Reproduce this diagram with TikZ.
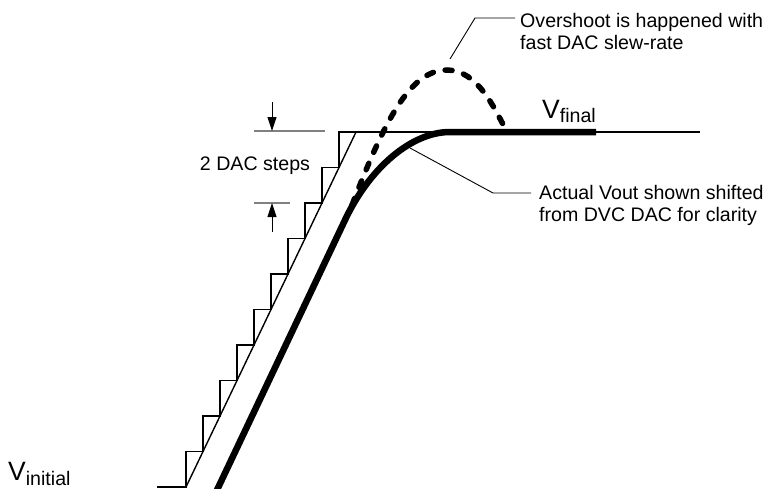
\documentclass[tikz,border=0pt]{standalone}
\usepackage{fontspec}
\setmainfont{Liberation Sans}
\usepackage{xcolor}
\usepackage{tikz}
\usetikzlibrary{arrows.meta, positioning}

\begin{document}
\begin{tikzpicture}[x=1pt, y=-1pt]
\tikzstyle{note} = [inner sep=0pt, align=left, anchor=north west, font=\fontsize{19.6}{21.6}\selectfont]
\tikzstyle{level} = [inner sep=0pt, anchor=base west, font=\fontsize{26.5}{28}\selectfont]
\tikzstyle{stair} = [line width=1.4pt]
\tikzstyle{leader} = [line width=0.9pt]
\tikzstyle{vout} = [line width=6.5pt]
\tikzstyle{overshoot} = [line width=5.5pt, line cap=round, dash pattern=on 7pt off 12pt]
\tikzstyle{dimline} = [line width=1.4pt, gray]
\tikzstyle{dimarrow} = [line width=0.9pt, -{Triangle[length=14pt,width=9pt]}]

\useasboundingbox (0,0) rectangle (767,488);

% DAC staircase and ideal ramp
\coordinate (stbegin) at (157,487);
\coordinate (stfoot) at (186,487);
\coordinate (sttop) at (356,132);
\coordinate (stend) at (700,132);
\draw[stair] (stbegin) -- (stfoot) \foreach \i in {1,...,10} {-- ++(0,-35.5) -- ++(17,0)} -- (stend);
\draw[stair] (stfoot) -- (sttop);

% actual Vout
\coordinate (vfoot) at (217,490);
\coordinate (vbend) at (345,220);
\coordinate (vflat) at (450,132);
\coordinate (vend) at (596,132);
\draw[vout] (vfoot) -- (vbend) .. controls (369.6,167.8) and (411.6,132) .. (vflat) -- (vend);

% overshoot
\coordinate (ovstart) at (352,205);
\coordinate (ovtop) at (447,70);
\coordinate (ovend) at (505,128);
\draw[overshoot] (ovstart) .. controls (385,120) and (410,70) .. (ovtop)
  .. controls (478,70) and (495,110) .. (ovend);

% 2 DAC steps
\draw[dimline] (254,131) -- (325,131);
\draw[dimline] (254,203) -- (290,203);
\coordinate (arrup) at (272,102);
\coordinate (limup) at (272,131);
\coordinate (arrdown) at (272,232);
\coordinate (limdown) at (272,203);
\draw[dimarrow] (arrup) -- (limup);
\draw[dimarrow] (arrdown) -- (limdown);
\node (dacsteps) [font=\fontsize{19.6}{21.6}\selectfont, inner sep=0pt] at (255,166) {2 DAC steps};

% labels
\node (vfinal) [level] at (542,118) {V\raisebox{-4pt}{\fontsize{19.6}{21}\selectfont final}};
\node (vinitial) [level] at (8,480) {V\raisebox{-5pt}{\fontsize{19.6}{21}\selectfont initial}};

\node (ovtext) [note] at (520,13) {Overshoot is happened with\\fast DAC slew-rate};
\node (actext) [note] at (539,185) {Actual Vout shown shifted\\from DVC DAC for clarity};

\coordinate (ovpeak) at (450,59);
\coordinate (ovknee) at (475,18);
\draw[leader, shorten >=5pt] (ovpeak) -- (ovknee) -- (ovknee -| ovtext.west);

\coordinate (vcurve) at (410,148);
\coordinate (acknee) at (493,193);
\draw[leader, shorten >=8pt] (vcurve) -- (acknee) -- (acknee -| actext.west);

\end{tikzpicture}
\end{document}
